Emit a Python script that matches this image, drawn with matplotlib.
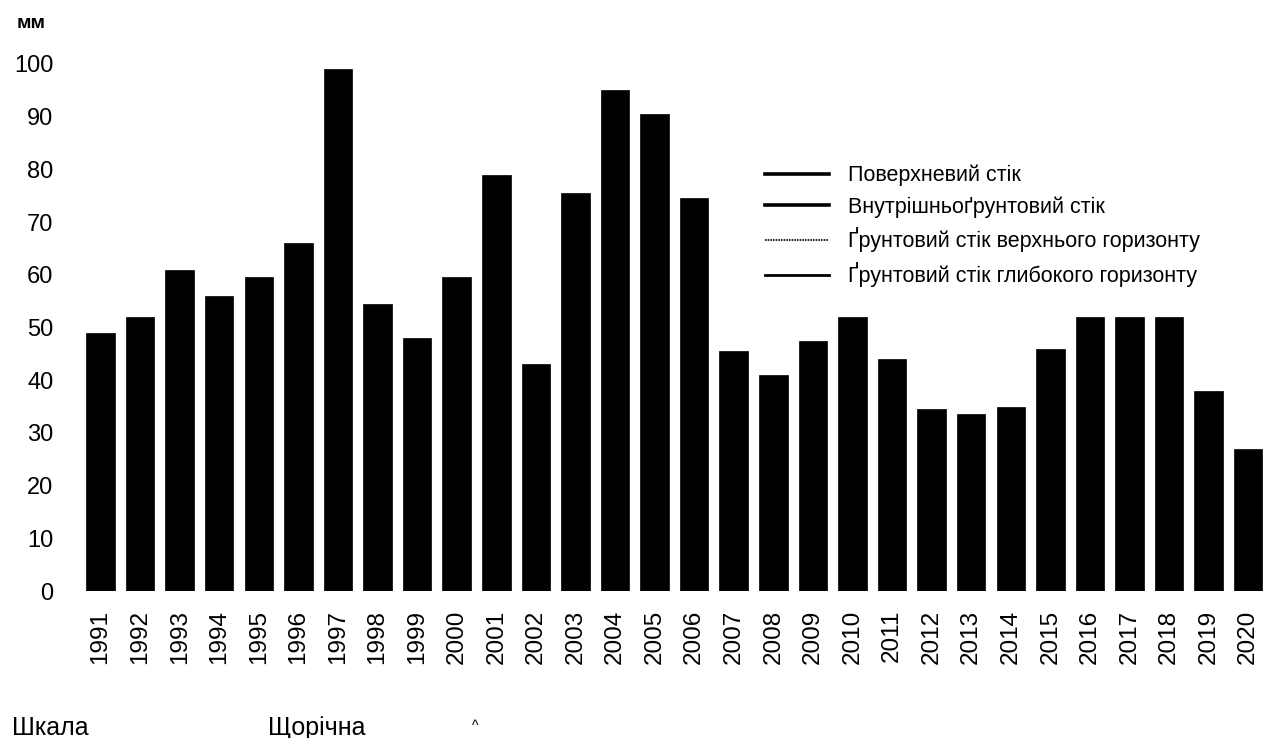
import matplotlib
matplotlib.use("Agg")
import matplotlib.pyplot as plt
from matplotlib.lines import Line2D

years = [str(y) for y in range(1991, 2021)]
total_runoff = [49, 52, 61, 56, 59.5, 66, 99, 54.5, 48, 59.5,
                79, 43, 75.5, 95, 90.5, 74.5, 45.5, 41, 47.5, 52,
                44, 34.5, 33.5, 35, 46, 52, 52, 52, 38, 27]
series_names = ["Поверхневий стік", "Внутрішньоґрунтовий стік",
                "Ґрунтовий стік верхнього горизонту", "Ґрунтовий стік глибокого горизонту"]
yticks = [0, 10, 20, 30, 40, 50, 60, 70, 80, 90, 100]

plt.rcParams['font.family'] = ['Liberation Sans', 'DejaVu Sans']

W, H = 1267, 738
fig = plt.figure(figsize=(W / 100, H / 100), dpi=100)
left, right, bottom, top = 80.7, 1268, 591, 64
ax = fig.add_axes([left / W, (H - bottom) / H, (right - left) / W, (bottom - top) / H])

x = list(range(len(years)))
ax.bar(x, total_runoff, width=0.72, color='black', edgecolor='black', linewidth=0.5)

ax.set_xlim(-0.5, len(years) - 0.5)
ax.set_ylim(0, 100)
ax.set_yticks(yticks)
ax.set_yticklabels([str(v) for v in yticks], fontsize=17)
ax.set_xticks(x)
ax.set_xticklabels(years, rotation=90, fontsize=17.5)
ax.tick_params(axis='y', length=0, pad=19.5)
ax.tick_params(axis='x', length=0, pad=13.5)
for s in ax.spines.values():
    s.set_visible(False)

fig.text(31 / W, 1 - 23 / H, "мм", fontsize=14, fontweight='bold', ha='center', va='center')

handles = [
    Line2D([], [], color='black', lw=2.6),
    Line2D([], [], color='black', lw=2.6),
    Line2D([], [], color='black', lw=1.2, linestyle=(0, (1, 0.6))),
    Line2D([], [], color='black', lw=2.0),
]
fig.legend(handles, series_names, loc='upper left',
           bbox_to_anchor=(765 / W, 1 - 165 / H), frameon=False,
           fontsize=15.5, handlelength=2.98, handletextpad=0.88,
           labelspacing=0.45, borderpad=0, borderaxespad=0)

fig.text(12 / W, 1 - 728 / H, "Шкала", fontsize=18, ha='left', va='center')
fig.text(268 / W, 1 - 728 / H, "Щорічна", fontsize=18, ha='left', va='center')
fig.text(475 / W, 1 - 726 / H, "^", fontsize=10, ha='center', va='center')

fig.savefig("out.png", dpi=100, facecolor='white')
